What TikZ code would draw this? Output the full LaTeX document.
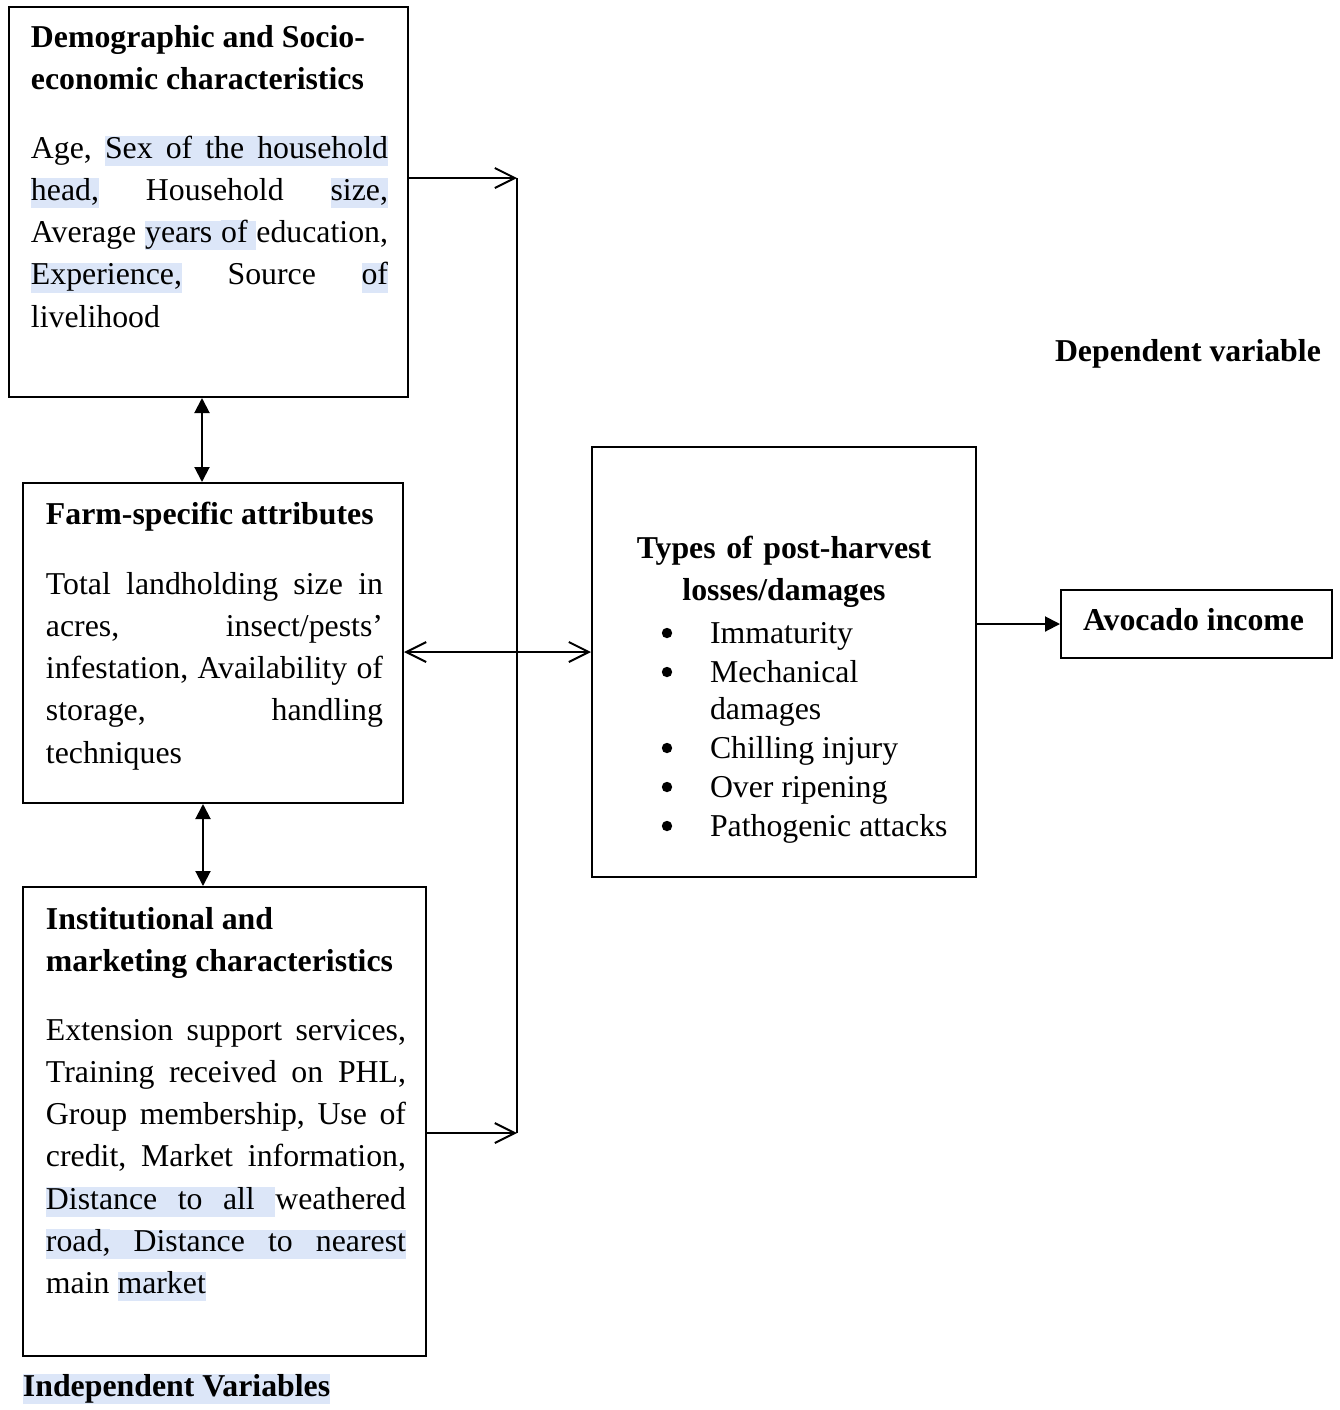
\documentclass[tikz,border=0pt]{standalone}
\usepackage{fontspec}
\setmainfont{Liberation Serif}
\usetikzlibrary{arrows.meta,fit}
\definecolor{hlblue}{HTML}{DCE6F8}
\setlength{\fboxsep}{0pt}
\frenchspacing
% normal spaces, line strut, justified line, highlighted word and highlighted space
\newcommand\sk{\spaceskip=0pt\xspaceskip=0pt\relax}
\newcommand\ls{\vrule height 15pt depth 6.15pt width 0pt}
\newcommand\jl[1]{\makebox[\lw][s]{\ls #1}}
\newcommand\hw[1]{\colorbox{hlblue}{\vrule height 11pt depth 3.8pt width 0pt#1}}
\newcommand\hs{{\color{hlblue}\leaders\vrule height 11pt depth 3.8pt\hskip\fontdimen2\font plus\fontdimen3\font minus\fontdimen4\font}}
\begin{document}
\begin{tikzpicture}[x=0.5pt, y=-0.5pt, line width=1pt,
  frame/.style={draw, inner sep=0pt, line width=1pt},
  bodytext/.style={inner sep=0pt, font=\fontsize{15.9}{21.15}\selectfont},
  para/.style={bodytext, anchor=north west, text width=#1, execute at begin node={\def\lw{#1}}},
  headtext/.style={inner sep=0pt, font=\fontsize{15.9}{21.15}\selectfont\bfseries},
  openarr/.style={-{Straight Barb[length=10pt,width=10pt]}},
  openboth/.style={{Straight Barb[length=10pt,width=10pt]}-{Straight Barb[length=10pt,width=10pt]}},
  fillarr/.style={-{Triangle[length=7.5pt,width=7.5pt]}},
  fillboth/.style={{Triangle[length=7.5pt,width=7.5pt]}-{Triangle[length=7.5pt,width=7.5pt]}}]
\useasboundingbox (0,0) rectangle (1340,1410);
% ---------- the boxes ----------
\node[frame, fit={(9,7) (408,397)}] (demo) {};
\node[frame, fit={(23,483) (403,803)}] (farm) {};
\node[frame, fit={(23,887) (426,1356)}] (inst) {};
\node[frame, fit={(592,447) (976,877)}] (loss) {};
\node[frame, fit={(1061,590) (1332,658)}] (income) {};
% ---------- independent variables ----------
\node[headtext, text width=185pt, anchor=north west] (demoHead) at (30,16) {\sk\ls Demographic and Socio-\\ \ls economic characteristics};
\node[para=178.5pt] (demoBody) at (30,127) {\sk
\jl{Age, \hw{Sex}\hs\hw{of}\hs\hw{the}\hs\hw{household}}\\
\jl{\hw{head,} Household \hw{size,}}\\
\jl{Average \hw{years}\hs\hw{of}\hs education,}\\
\jl{\hw{Experience,} Source \hw{of}}\\
\ls livelihood};
\node[headtext, anchor=base west] (farmHead) at (45,524) {Farm-specific attributes};
\node[para=168.5pt] (farmBody) at (45,563) {\sk
\jl{Total landholding size in}\\
\jl{acres, insect/pests'}\\
\jl{infestation, Availability of}\\
\jl{storage, handling}\\
\ls techniques};
\node[headtext, text width=185pt, anchor=north west] (instHead) at (45,898) {\sk\ls Institutional and\\ \ls marketing characteristics};
\node[para=180pt] (instBody) at (45,1009) {\sk
\jl{Extension support services,}\\
\jl{Training received on PHL,}\\
\jl{Group membership, Use of}\\
\jl{credit, Market information,}\\
\jl{\hw{Distance}\hs\hw{to}\hs\hw{all}\hs weathered}\\
\jl{\hw{road,}\hs\hw{Distance}\hs\hw{to}\hs\hw{nearest}}\\
\ls main \hw{market}};
\node[headtext, anchor=base west] (indepLabel) at (22,1396) {\hw{Independent}\hs\hw{Variables}};
% ---------- losses and income ----------
\node[headtext, text width=190pt, align=center, anchor=north] (lossHead) at (784,527) {\sk\ls Types of post-harvest\\ \ls losses/damages};
\foreach \y/\t [count=\i] in {643/Immaturity, 682/Mechanical, 758/Chilling injury, 797/Over ripening, 836/Pathogenic attacks} {
  \fill (667,\y-10) circle (2.6pt);
  \node[bodytext, anchor=base west] (item\i) at (709,\y) {\t};
}
\node[bodytext, anchor=base west] (item2b) at (709,719) {damages};
\node[headtext, anchor=base west] (incomeText) at (1082,630) {Avocado income};
\node[headtext, anchor=base west] (depLabel) at (1054,361) {Dependent variable};
% ---------- connectors ----------
\coordinate (busTop) at (517,178);
\coordinate (busBot) at (517,1133);
\coordinate (busMid) at (517,652);
\coordinate (linkA) at (202,440);
\coordinate (linkB) at (203,845);
\coordinate (linkC) at (1018,624);
\draw (busTop) -- (busBot);
\draw[openarr] (demo.east |- busTop) -- (busTop);
\draw[openarr] (inst.east |- busBot) -- (busBot);
\draw[openboth] (farm.east |- busMid) -- (loss.west |- busMid);
\draw[fillboth] (demo.south -| linkA) -- (farm.north -| linkA);
\draw[fillboth] (farm.south -| linkB) -- (inst.north -| linkB);
\draw[fillarr] (loss.east |- linkC) -- (income.west |- linkC);
\end{tikzpicture}
\end{document}
